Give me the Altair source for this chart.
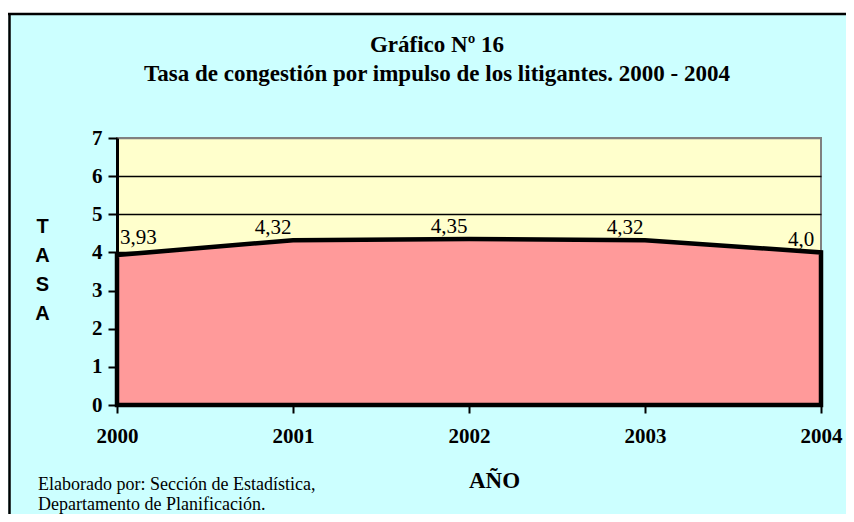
import altair as alt
import pandas as pd

years = [2000, 2001, 2002, 2003, 2004]
tasa = [3.93, 4.32, 4.35, 4.32, 4.0]
etiquetas = ["3,93", "4,32", "4,35", "4,32", "4,0"]
y_ticks = [0, 1, 2, 3, 4, 5, 6, 7]
titulo = ["Gráfico Nº 16", "Tasa de congestión por impulso de los litigantes. 2000 - 2004"]
eje_y_titulo = ["T", "A", "S", "A"]
eje_x_titulo = "AÑO"
nota = ["Elaborado por: Sección de Estadística,", "Departamento de Planificación."]

df = pd.DataFrame({"year": years, "tasa": tasa, "label": etiquetas})

SERIF = "Liberation Serif"
SANS = "Liberation Sans"

x_enc = alt.X(
    "year:Q",
    scale=alt.Scale(domain=[years[0], years[-1]], nice=False, zero=False),
    axis=alt.Axis(
        values=years, format="d", title=eje_x_titulo, labelOverlap=False,
        labelFont=SERIF, labelFontSize=21, labelFontWeight="bold", labelColor="black",
        labelPadding=12, labelFlush=False,
        domainColor="black", domainWidth=3, tickColor="black", tickWidth=2, tickSize=8,
        grid=False,
        titleFont=SERIF, titleFontSize=23, titleFontWeight="bold", titleColor="black",
        titleAlign="center", titleBaseline="alphabetic", titleX=377, titleY=82,
    ),
)
y_enc = alt.Y(
    "tasa:Q",
    scale=alt.Scale(domain=[0, 7], nice=False),
    axis=alt.Axis(
        values=y_ticks, tickCount=8, labelOverlap=False, title=eje_y_titulo,
        labelFont=SERIF, labelFontSize=21, labelFontWeight="bold", labelColor="black",
        labelPadding=6,
        domainColor="black", domainWidth=3, tickColor="black", tickWidth=2, tickSize=9,
        grid=True, gridWidth=1.5,
        gridColor={"condition": {"test": "datum.value === 7", "value": "#808080"}, "value": "black"},
        titleFont=SANS, titleFontSize=20, titleFontWeight="bold", titleColor="black",
        titleAngle=0, titleAlign="center", titleBaseline="middle", titleLineHeight=29,
        titleX=-75, titleY=88,
    ),
)

base = alt.Chart(df).encode(x=x_enc, y=y_enc)

area = base.mark_area(color="#FF9A9A", stroke="black", strokeWidth=4.5, opacity=1)

lbl_first = base.transform_filter(alt.datum.year == years[0]).mark_text(
    font=SERIF, fontSize=21, color="black", align="left", baseline="middle", dx=3, dy=-17
).encode(text="label:N")

lbl_rest = base.transform_filter(alt.datum.year != years[0]).mark_text(
    font=SERIF, fontSize=21, color="black", align="center", baseline="middle", dx=-20, dy=-12
).encode(text="label:N")

one = pd.DataFrame({"k": [0]})

title_txt = alt.Chart(one).mark_text(
    text=titulo, font=SERIF, fontSize=23, fontWeight="bold", color="black",
    align="center", baseline="alphabetic", lineHeight=29
).encode(x=alt.value(320), y=alt.value(-86))

foot = alt.Chart(one).mark_text(
    text=nota, font=SERIF, fontSize=18, color="black", align="left", baseline="alphabetic", lineHeight=20
).encode(x=alt.value(-79), y=alt.value(352))

white_top = alt.Chart(one).mark_rect(color="white").encode(
    x=alt.value(-109), x2=alt.value(760), y=alt.value(-131), y2=alt.value(-125)
)
border_top = alt.Chart(one).mark_rule(color="black", strokeWidth=2.5).encode(
    x=alt.value(-109), x2=alt.value(760), y=alt.value(-124)
)
border_left = alt.Chart(one).mark_rule(color="black", strokeWidth=2.5).encode(
    x=alt.value(-107.5), y=alt.value(-125), y2=alt.value(400)
)

chart = alt.layer(area, lbl_first, lbl_rest, title_txt, foot, white_top, border_top, border_left).properties(
    width=704,
    height=267,
    background="#CCFFFF",
    padding={"left": 109, "top": 130, "right": 25, "bottom": 109},
    autosize=alt.AutoSizeParams(type="none"),
).configure_view(fill="#FFFFCC", stroke="#808080", strokeWidth=2)

chart.save("out.html", embed_options={"renderer": "svg", "actions": False})
